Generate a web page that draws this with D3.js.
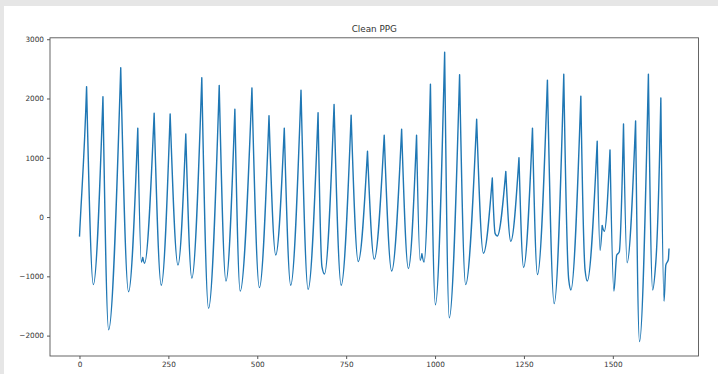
<!DOCTYPE html>
<html>
<head>
<meta charset="utf-8">
<script src="https://cdn.jsdelivr.net/npm/d3@7"></script>
<style>
  html, body { margin: 0; padding: 0; background: #ffffff; }
  svg { display: block; }
  text { font-family: "DejaVu Sans", sans-serif; }
</style>
</head>
<body>
<svg id="chart" width="718" height="374"></svg>
<script>
// Key points of the cleaned PPG trace: sample index and amplitude
// (systolic peaks, troughs and the notches/shoulders between them).
const sampleIndex = [
  0, 20, 39, 66, 82, 116, 138, 164, 174, 178, 183, 210, 230, 255, 277, 299,
  316, 344, 363, 393, 412, 437, 452, 485, 506, 533, 552, 576, 594, 623, 643,
  671, 682, 689, 716, 736, 764, 784, 810, 829, 857, 878, 906, 925, 948, 958,
  963, 969, 987, 1001, 1027, 1040, 1069, 1086, 1117, 1136, 1161, 1169, 1175,
  1199, 1213, 1236, 1249, 1274, 1288, 1316, 1335, 1362, 1376, 1382, 1410,
  1422, 1428, 1456, 1464, 1470, 1476, 1492, 1503, 1511, 1518, 1530, 1540,
  1564, 1575, 1600, 1612, 1621, 1635, 1644, 1649, 1656, 1658
];
const ppgValue = [
  -330, 2200, -1140, 2030, -1900, 2520, -1260, 1500, -760, -680, -780, 1750,
  -1150, 1740, -810, 1400, -1030, 2350, -1540, 2220, -1080, 1820, -1250, 2180,
  -1190, 1710, -640, 1500, -1150, 2140, -1220, 1760, -840, -960, 1900, -1150,
  1720, -750, 1110, -710, 1380, -910, 1480, -870, 1380, -730, -620, -760, 2240,
  -1480, 2780, -1700, 2400, -1140, 1650, -610, 660, -280, -320, 770, -410,
  1000, -850, 1500, -970, 2310, -1460, 2410, -1060, -1230, 2040, -900, -1080,
  1280, -560, -140, -240, 1130, -1250, -640, -590, 1570, -770, 1620, -2100,
  2410, -1230, -750, 2010, -1420, -810, -720, -530
];
const xTicks = [0, 250, 500, 750, 1000, 1250, 1500];
const yTicks = [-2000, -1000, 0, 1000, 2000, 3000];
const titleText = "Clean PPG";

// Curve for pulse waveforms: rounded (flat-tangent) troughs, pointed systolic
// peaks, monotone cubic segments elsewhere. Works in screen space, where a
// peak is a local minimum of y.
function pulseCurve(context) {
  const k = 1.5; // tangent gain on either side of a peak
  let pts;
  return {
    areaStart() {}, areaEnd() {},
    lineStart() { pts = []; },
    point(px, py) { pts.push([+px, +py]); },
    lineEnd() {
      const n = pts.length;
      if (!n) return;
      context.moveTo(pts[0][0], pts[0][1]);
      if (n === 1) return;
      const sec = [];
      for (let i = 0; i < n - 1; i++) {
        sec.push((pts[i + 1][1] - pts[i][1]) / (pts[i + 1][0] - pts[i][0]));
      }
      // incoming / outgoing tangent at every point
      const tin = new Array(n), tout = new Array(n);
      for (let i = 0; i < n; i++) {
        if (i === 0) { tin[i] = tout[i] = sec[0]; continue; }
        if (i === n - 1) { tin[i] = tout[i] = sec[n - 2]; continue; }
        const a = sec[i - 1], b = sec[i];
        if (a < 0 && b > 0) {          // peak: pointed
          tin[i] = k * a; tout[i] = k * b;
        } else if (a > 0 && b < 0) {   // trough: rounded
          tin[i] = tout[i] = 0;
        } else if (a === 0 || b === 0) {
          tin[i] = tout[i] = 0;
        } else {                       // monotone run: harmonic mean
          const m = 2 * a * b / (a + b);
          tin[i] = tout[i] = m;
        }
      }
      for (let i = 0; i < n - 1; i++) {
        const [x0, y0] = pts[i], [x1, y1] = pts[i + 1];
        const dx = (x1 - x0) / 3;
        context.bezierCurveTo(x0 + dx, y0 + tout[i] * dx, x1 - dx, y1 - tin[i + 1] * dx, x1, y1);
      }
    }
  };
}

const svg = d3.select("#chart");
const W = 718, H = 374;
const box = { left: 50, right: 698.5, top: 37.8, bottom: 356 };

// outer figure frame (light gray band on top and left)
svg.append("rect").attr("x", 0).attr("y", 0).attr("width", W).attr("height", H).attr("fill", "#ffffff");
svg.append("rect").attr("x", 0).attr("y", 0).attr("width", W).attr("height", 6).attr("fill", "#e6e6e6");
svg.append("rect").attr("x", 0).attr("y", 0).attr("width", 4).attr("height", H).attr("fill", "#e6e6e6");

const points = sampleIndex.map((s, i) => ({ s, v: ppgValue[i] }));

// 5% autoscale margins on both axes
const xExt = d3.extent(sampleIndex), yExt = d3.extent(ppgValue);
const xPad = (xExt[1] - xExt[0]) * 0.05, yPad = (yExt[1] - yExt[0]) * 0.05;
const x = d3.scaleLinear().domain([xExt[0] - xPad, xExt[1] + xPad]).range([box.left, box.right]);
const y = d3.scaleLinear().domain([yExt[0] - yPad, yExt[1] + yPad]).range([box.bottom, box.top]);

svg.append("clipPath").attr("id", "plotclip")
  .append("rect").attr("x", box.left).attr("y", box.top)
  .attr("width", box.right - box.left).attr("height", box.bottom - box.top);

const line = d3.line()
  .x(d => x(d.s))
  .y(d => y(d.v))
  .curve(pulseCurve);

svg.append("path")
  .datum(points)
  .attr("clip-path", "url(#plotclip)")
  .attr("fill", "none")
  .attr("stroke", "#1f77b4")
  .attr("stroke-width", 1.4)
  .attr("stroke-linejoin", "round")
  .attr("d", line);

const fmt = d3.format("d");

const xAxis = svg.append("g")
  .attr("transform", `translate(0,${box.bottom})`)
  .call(d3.axisBottom(x).tickValues(xTicks).tickFormat(fmt).tickSize(3).tickSizeOuter(0).tickPadding(3));
const yAxis = svg.append("g")
  .attr("transform", `translate(${box.left},0)`)
  .call(d3.axisLeft(y).tickValues(yTicks).tickFormat(fmt).tickSize(3).tickSizeOuter(0).tickPadding(3));

[xAxis, yAxis].forEach(g => {
  g.select(".domain").remove();
  g.selectAll(".tick line").attr("stroke", "#444").attr("stroke-width", 0.9);
  g.selectAll(".tick text")
    .attr("fill", "#333")
    .style("font-family", "'DejaVu Sans', sans-serif")
    .style("font-size", "7.3px");
});

// axes spines
svg.append("rect")
  .attr("x", box.left).attr("y", box.top)
  .attr("width", box.right - box.left).attr("height", box.bottom - box.top)
  .attr("fill", "none").attr("stroke", "#555").attr("stroke-width", 0.9);

svg.append("text")
  .attr("x", (box.left + box.right) / 2)
  .attr("y", 32.3)
  .attr("text-anchor", "middle")
  .attr("fill", "#333")
  .style("font-size", "8.8px")
  .text(titleText);
</script>
</body>
</html>
